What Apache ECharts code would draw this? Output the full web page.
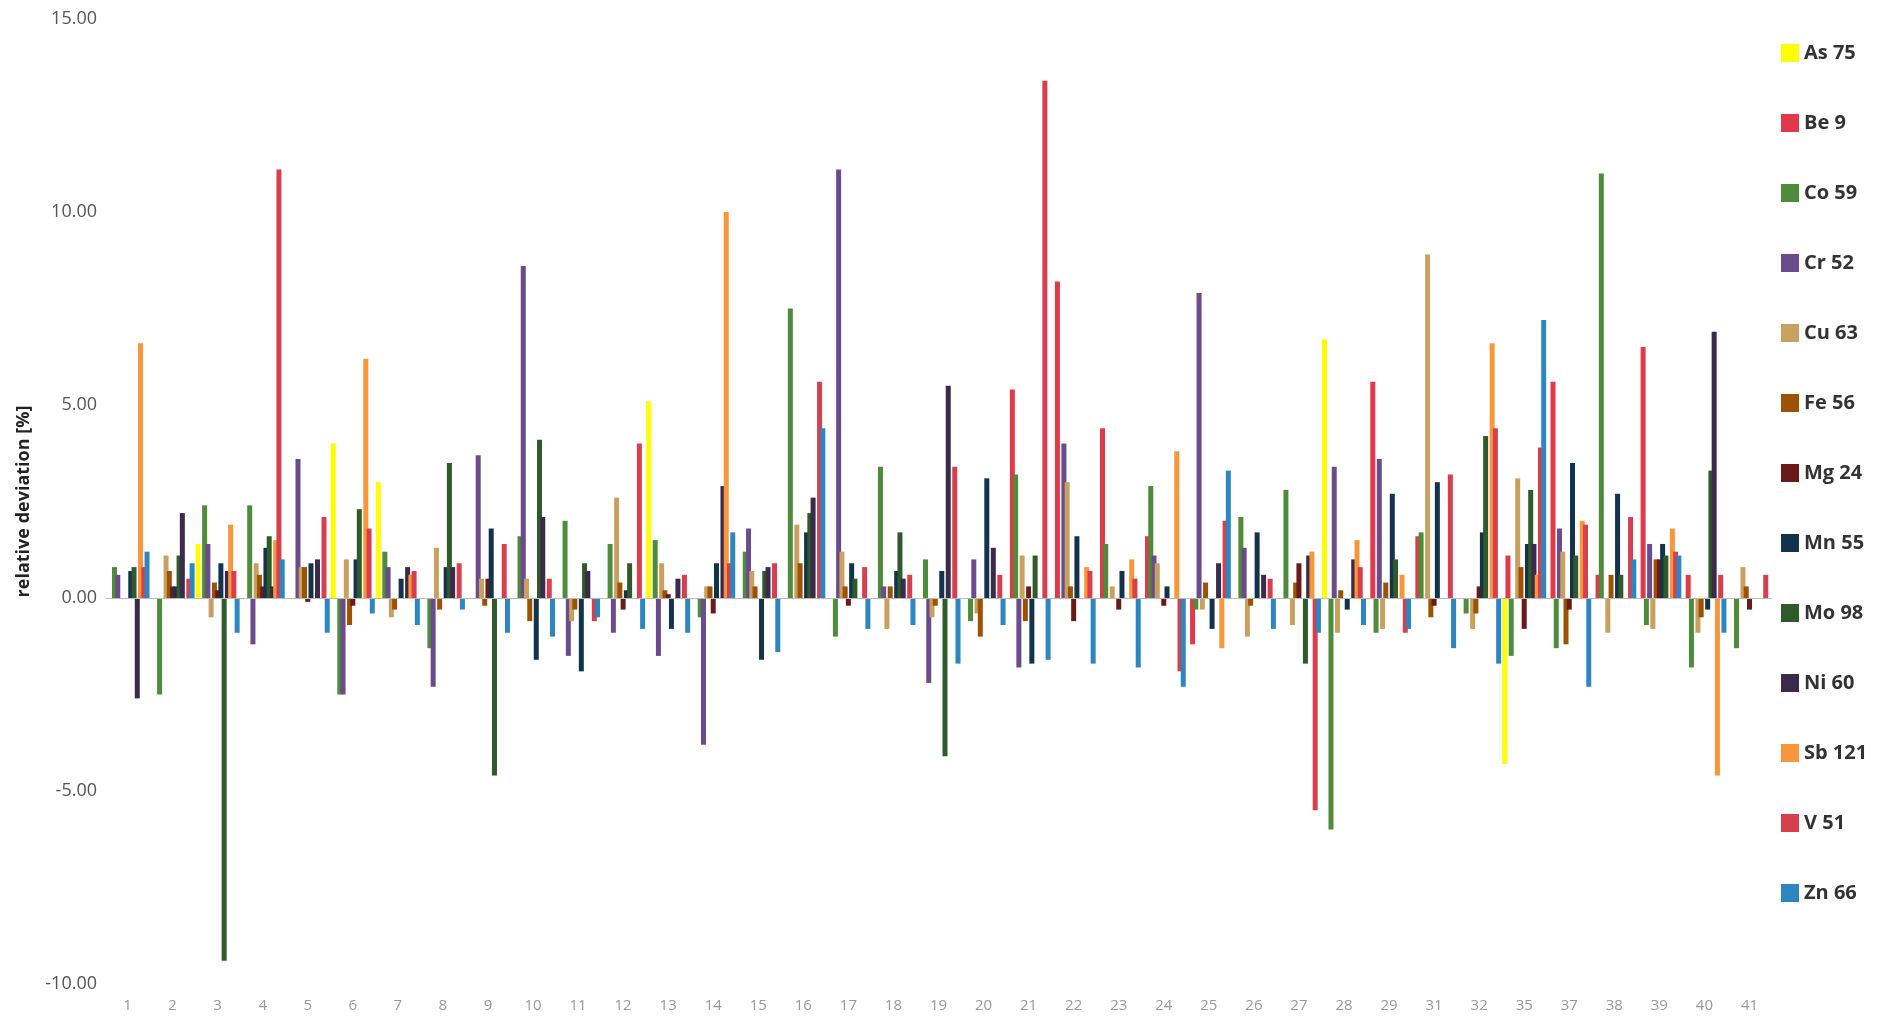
<!DOCTYPE html><html><head><meta charset="utf-8"><script src="https://cdn.jsdelivr.net/npm/echarts@6/dist/echarts.min.js"></script>
<style>html,body{margin:0;background:#fff}#c{width:1878px;height:1028px}</style></head><body><div id="c"></div><script>
const categories=['1','2','3','4','5','6','7','8','9','10','11','12','13','14','15','16','17','18','19','20','21','22','23','24','25','26','27','28','29','31','32','35','37','38','39','40','41'];
const As=[0,0,1.4,0,0,4.0,3.0,0,0,0,0,0,5.1,0,0,0,0,0,0,0,0,0,0,0,0,0,0,6.7,0,0,0,-4.3,0,0,0,0,0];
const Be=[0,0,0,0,0,0,0,0,0,0,0,0,0,0,0,0,0,0,0,0,5.4,8.2,4.4,1.6,-1.2,0,0,0,5.6,1.6,0,1.1,5.6,0.6,6.5,0.6,0];
const Co=[0.8,-2.5,2.4,2.4,0,-2.5,1.2,-1.3,0,1.6,2.0,1.4,1.5,-0.5,1.2,7.5,-1.0,3.4,1.0,-0.6,3.2,0,1.4,2.9,-0.3,2.1,2.8,-6.0,-0.9,1.7,-0.4,-1.5,-1.3,11.0,-0.7,-1.8,-1.3];
const Cr=[0.6,0,1.4,-1.2,3.6,-2.5,0.8,-2.3,3.7,8.6,-1.5,-0.9,-1.5,-3.8,1.8,0,11.1,0.3,-2.2,1.0,-1.8,4.0,0,1.1,7.9,1.3,0,3.4,3.6,0,0,0,1.8,0,1.4,0,0];
const Cu=[0,1.1,-0.5,0.9,0.8,1.0,-0.5,1.3,0.5,0.5,-0.6,2.6,0.9,0.3,0.7,1.9,1.2,-0.8,-0.5,-0.4,1.1,3.0,0.3,0.9,-0.3,-1.0,-0.7,-0.9,-0.8,8.9,-0.8,3.1,1.2,-0.9,-0.8,-0.9,0.8];
const Fe=[0,0.7,0.4,0.6,0.8,-0.7,-0.3,-0.3,-0.2,-0.6,-0.3,0.4,0.2,0.3,0.3,0.9,0.3,0.3,-0.2,-1.0,-0.6,0.3,0,0,0.4,-0.2,0.4,0.2,0.4,-0.5,-0.4,0.8,-1.2,0.6,1.0,-0.5,0.3];
const Mg=[0,0.3,0.2,0.3,-0.1,-0.2,0,0,0.5,0,0,-0.3,0.1,-0.4,0,0,-0.2,0,0,0,0.3,-0.6,-0.3,-0.2,0,0,0.9,0,0,-0.2,0.3,-0.8,-0.3,0,1.0,0,-0.3];
const Mn=[0.7,0.3,0.9,1.3,0.9,1.0,0.5,0.8,1.8,-1.6,-1.9,0.2,-0.8,0.9,-1.6,1.7,0.9,0.7,0.7,3.1,-1.7,1.6,0.7,0.3,-0.8,1.7,0,-0.3,2.7,3.0,1.7,1.4,3.5,2.7,1.4,-0.3,0];
const Mo=[0.8,1.1,-9.4,1.6,0,2.3,0,3.5,-4.6,4.1,0.9,0.9,0,0,0.7,2.2,0.5,1.7,-4.1,0,1.1,0,0,0,0,0,-1.7,0,1.0,0,4.2,2.8,1.1,0.6,1.1,3.3,0];
const Ni=[-2.6,2.2,0.7,0.3,1.0,0,0.8,0.8,0,2.1,0.7,0,0.5,2.9,0.8,2.6,0,0.5,5.5,1.3,0,0,0,0,0.9,0.6,1.1,1.0,0,0,0,1.4,0,0,0,6.9,0];
const Sb=[6.6,0,1.9,1.5,0,6.2,0.6,0,0,0,0,0,0,10.0,0,0,0,0,0,0,0,0.8,1.0,3.8,-1.3,0,1.2,1.5,0.6,0,6.6,0.6,2.0,0,1.8,-4.6,0];
const V=[0.8,0.5,0.7,11.1,2.1,1.8,0.7,0.9,1.4,0.5,-0.6,4.0,0.6,0.9,0.9,5.6,0.8,0.6,3.4,0.6,13.4,0.7,0.5,-1.9,2.0,0.5,-5.5,0.8,-0.9,3.2,4.4,3.9,1.9,2.1,1.2,0.6,0.6];
const Zn=[1.2,0.9,-0.9,1.0,-0.9,-0.4,-0.7,-0.3,-0.9,-1.0,-0.5,-0.8,-0.9,1.7,-1.4,4.4,-0.8,-0.7,-1.7,-0.7,-1.6,-1.7,-1.8,-2.3,3.3,-0.8,-0.9,-0.7,-0.8,-1.3,-1.7,7.2,-2.3,1.0,1.1,-0.9,0];
const names=['As 75','Be 9','Co 59','Cr 52','Cu 63','Fe 56','Mg 24','Mn 55','Mo 98','Ni 60','Sb 121','V 51','Zn 66'];
const values=[As,Be,Co,Cr,Cu,Fe,Mg,Mn,Mo,Ni,Sb,V,Zn];
const colors=['#FFFF00','#E0394A','#4E8B3A','#6A4C8C','#C8A060','#9C5200','#6B1A1A','#13334D','#2F5A2A','#3B2A4A','#F7963A','#D6404E','#2E86C1'];
const chart=echarts.init(document.getElementById('c'));
chart.setOption({
 animation:false,
 color:colors,
 grid:{left:105,right:106,top:19,bottom:44},
 legend:{orient:'vertical',left:1776,top:38,itemGap:50,itemWidth:18,itemHeight:18,icon:'rect',
  textStyle:{fontSize:20,fontWeight:'bold',color:'#333',fontFamily:'Open Sans'},data:names},
 xAxis:{type:'category',data:categories,axisTick:{show:false},axisLine:{show:false},
  axisLabel:{color:'#999',fontSize:15,margin:14,interval:0,fontFamily:'Open Sans'}},
 yAxis:{type:'value',min:-10,max:15,interval:5,splitLine:{show:false},
  name:'relative deviation [%]',nameLocation:'middle',nameGap:72,
  nameTextStyle:{fontSize:18,fontWeight:'bold',color:'#222',fontFamily:'Open Sans'},
  axisLabel:{formatter:v=>v.toFixed(2),color:'#555',fontSize:18,fontFamily:'Open Sans'}},
 series:names.map((n,i)=>{
  const s={name:n,type:'bar',data:values[i],barWidth:5,barGap:'-35%'};
  if(i===0) s.markLine={silent:true,symbol:'none',label:{show:false},lineStyle:{color:'#bbb',type:'solid',width:1},data:[{yAxis:0}]};
  return s;})
});
</script></body></html>
